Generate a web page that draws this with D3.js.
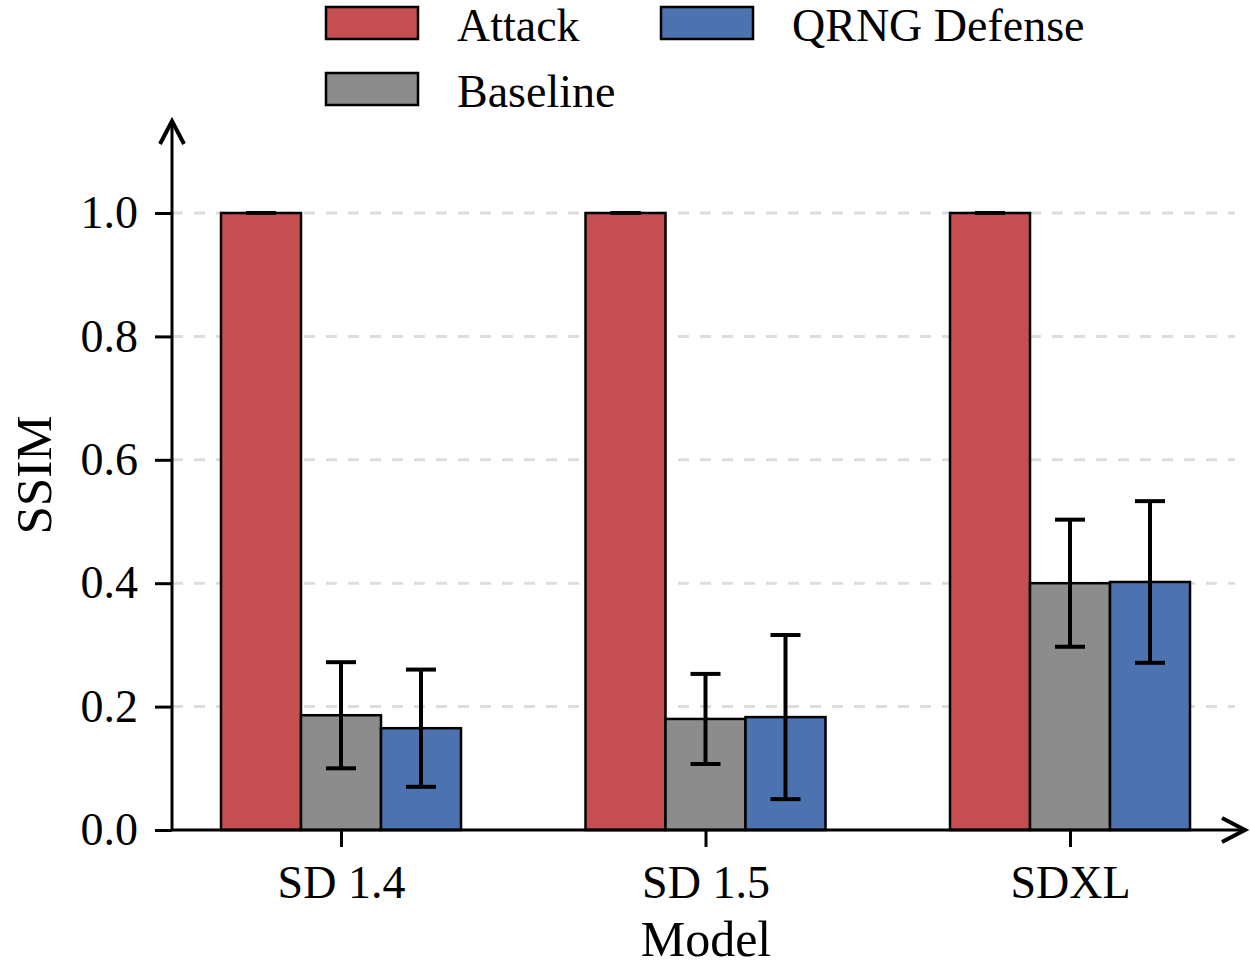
<!DOCTYPE html>
<html>
<head>
<meta charset="utf-8">
<script src="https://cdn.jsdelivr.net/npm/d3@7"></script>
<style>
  body { margin: 0; background: #fff; }
  text { font-family: "Liberation Serif", "Times New Roman", serif; fill: #000; }
</style>
</head>
<body>
<div id="chart"></div>
<script>
// Data
const models = ['SD 1.4', 'SD 1.5', 'SDXL'];
const seriesNames = ['Attack', 'Baseline', 'QRNG Defense'];
const attackMean = [1.0, 1.0, 1.0];
const attackErr = [0.0, 0.0, 0.0];
const baselineMean = [0.186, 0.180, 0.400];
const baselineErr = [0.086, 0.073, 0.103];
const qrngMean = [0.165, 0.183, 0.402];
const qrngErr = [0.095, 0.133, 0.131];
const yTicks = [0.0, 0.2, 0.4, 0.6, 0.8, 1.0];

const colors = { 'Attack': '#c44e52', 'Baseline': '#8c8c8c', 'QRNG Defense': '#4c72b0' };

const width = 1250, height = 967;
const margin = { top: 120, right: 5, bottom: 137, left: 172 };

const svg = d3.select('#chart').append('svg')
    .attr('width', width)
    .attr('height', height);

const plotRight = 1245;
const x0 = d3.scalePoint().domain(models).range([341, 1070]);
const barW = 80;
const y = d3.scaleLinear().domain([0, 1]).range([830, 213]);

// Grid lines
svg.append('g').selectAll('line')
    .data(yTicks.filter(d => d > 0))
    .enter().append('line')
    .attr('x1', margin.left).attr('x2', 1235)
    .attr('y1', d => y(d)).attr('y2', d => y(d))
    .attr('stroke', '#dddddd')
    .attr('stroke-width', 3)
    .attr('stroke-dasharray', '11,11');

// Bars
const rows = [];
models.forEach((m, i) => {
    rows.push({ model: m, s: 'Attack', k: 0, v: attackMean[i], e: attackErr[i] });
    rows.push({ model: m, s: 'Baseline', k: 1, v: baselineMean[i], e: baselineErr[i] });
    rows.push({ model: m, s: 'QRNG Defense', k: 2, v: qrngMean[i], e: qrngErr[i] });
});

const bx = d => x0(d.model) + (d.k - 1) * barW;

svg.append('g').selectAll('rect')
    .data(rows)
    .enter().append('rect')
    .attr('x', d => bx(d) - barW / 2)
    .attr('y', d => y(d.v))
    .attr('width', barW)
    .attr('height', d => y(0) - y(d.v))
    .attr('fill', d => colors[d.s])
    .attr('stroke', '#000')
    .attr('stroke-width', 2.5);

// Error bars
const eg = svg.append('g').attr('stroke', '#000').attr('stroke-width', 4);
rows.forEach(d => {
    const cx = bx(d);
    if (d.e > 0) {
        eg.append('line').attr('x1', cx).attr('x2', cx)
            .attr('y1', y(d.v + d.e)).attr('y2', y(d.v - d.e));
    }
    eg.append('line').attr('x1', cx - 15).attr('x2', cx + 15)
        .attr('y1', y(d.v + d.e)).attr('y2', y(d.v + d.e));
    eg.append('line').attr('x1', cx - 15).attr('x2', cx + 15)
        .attr('y1', y(d.v - d.e)).attr('y2', y(d.v - d.e));
});

// Y axis
const yAxis = svg.append('g')
    .attr('transform', `translate(${margin.left},0)`)
    .call(d3.axisLeft(y).tickValues(yTicks).tickFormat(d3.format('.1f')).tickSize(17).tickPadding(17));
yAxis.select('.domain').remove();
yAxis.selectAll('.tick line').attr('stroke', '#000').attr('stroke-width', 3);
yAxis.selectAll('.tick text').attr('font-size', 46).attr('font-family', 'Liberation Serif');

// X axis ticks
const xAxis = svg.append('g')
    .attr('transform', 'translate(0,830)')
    .call(d3.axisBottom(x0).tickSize(17).tickPadding(18));
xAxis.select('.domain').remove();
xAxis.selectAll('.tick line').attr('stroke', '#000').attr('stroke-width', 3);
xAxis.selectAll('.tick text').attr('font-size', 46).attr('font-family', 'Liberation Serif');

// Axis lines with arrows
svg.append('line').attr('x1', margin.left).attr('x2', margin.left)
    .attr('y1', 831).attr('y2', 121).attr('stroke', '#000').attr('stroke-width', 3);
svg.append('path').attr('d', `M${margin.left - 12},144 L${margin.left},121 L${margin.left + 12},144`)
    .attr('fill', 'none').attr('stroke', '#000').attr('stroke-width', 4);
svg.append('line').attr('x1', margin.left - 1).attr('x2', plotRight)
    .attr('y1', 830).attr('y2', 830).attr('stroke', '#000').attr('stroke-width', 3);
svg.append('path').attr('d', `M${plotRight - 23},818 L${plotRight},830 L${plotRight - 23},842`)
    .attr('fill', 'none').attr('stroke', '#000').attr('stroke-width', 4);

// Axis titles
svg.append('text')
    .attr('x', 706).attr('y', 956)
    .attr('text-anchor', 'middle')
    .attr('font-size', 50)
    .text('Model');
svg.append('text')
    .attr('transform', 'translate(51,475) rotate(-90)')
    .attr('text-anchor', 'middle')
    .attr('font-size', 51)
    .text('SSIM');

// Legend
const legendPos = [
    { s: 'Attack', x: 326, y: 7 },
    { s: 'QRNG Defense', x: 661, y: 7 },
    { s: 'Baseline', x: 326, y: 73 }
];
const lg = svg.append('g');
legendPos.forEach(p => {
    lg.append('rect')
        .attr('x', p.x).attr('y', p.y)
        .attr('width', 92).attr('height', 32)
        .attr('fill', colors[p.s])
        .attr('stroke', '#000').attr('stroke-width', 2.5);
    lg.append('text')
        .attr('x', p.x + 131).attr('y', p.y + 34)
        .attr('font-size', 46)
        .text(p.s);
});
</script>
</body>
</html>
